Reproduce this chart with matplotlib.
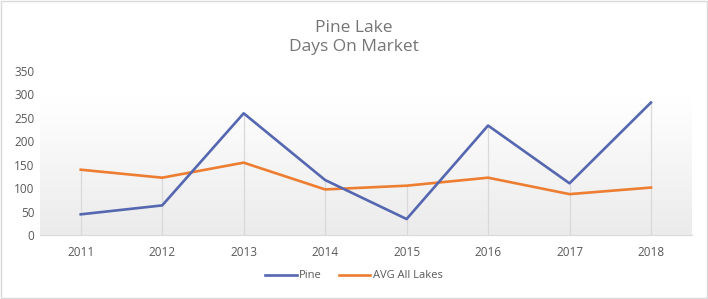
import numpy as np
import matplotlib.pyplot as plt
from matplotlib.patches import Rectangle
from matplotlib.colors import LinearSegmentedColormap

years = ["2011", "2012", "2013", "2014", "2015", "2016", "2017", "2018"]
pine = [44, 63, 259, 117, 34, 233, 110, 282]
avg_all = [139, 122, 154, 97, 105, 122, 87, 101]

plt.rcParams['font.family'] = ['Open Sans', 'DejaVu Sans']

fig = plt.figure(figsize=(7.08, 2.99), dpi=100)
ax = fig.add_axes([0.0565, 0.214, 0.9205, 0.55])

x = np.arange(len(years))
ax.set_xlim(-0.5, len(years) - 0.5)
ax.set_ylim(0, 350)

# soft gradient in the lower plot area, white at the top
grad = np.linspace(0, 1, 256).reshape(-1, 1)
ax.imshow(grad, extent=(-0.5, len(years) - 0.5, 0, 292), aspect='auto',
          cmap=LinearSegmentedColormap.from_list('g', ['#ffffff', '#ebebeb']),
          vmin=0, vmax=1, zorder=0)

# drop lines
tops = np.maximum(pine, avg_all)
ax.vlines(x, 0, tops, color='#d9d9d9', lw=0.9, zorder=1)

ax.plot(x, pine, color='#5467b0', lw=1.9, label='Pine', zorder=3)
ax.plot(x, avg_all, color='#ed7d31', lw=1.9, label='AVG All Lakes', zorder=2)

ax.set_xticks(x)
ax.set_xticklabels(years)
ax.set_yticks(np.arange(0, 351, 50))
ax.tick_params(length=0, labelsize=8.5, labelcolor='#595959')
ax.tick_params(axis='x', pad=8)
ax.tick_params(axis='y', pad=4)
for s in ['top', 'right', 'left']:
    ax.spines[s].set_visible(False)
ax.spines['bottom'].set_color('#d9d9d9')

fig.text(0.5, 0.875, "Pine Lake\nDays On Market", ha='center', va='center',
         fontsize=12.5, color='#757575', linespacing=1.3)

fig.legend(loc='center', bbox_to_anchor=(0.5, 0.077), ncol=2, frameon=False,
           fontsize=8, handlelength=2.8, handletextpad=0.2, columnspacing=1.6,
           labelcolor='#595959')

fig.patches.append(Rectangle((0.001, 0.004), 0.997, 0.993, transform=fig.transFigure,
                             fill=False, edgecolor='#d9d9d9', lw=1))

plt.savefig("out.png", dpi=100)
